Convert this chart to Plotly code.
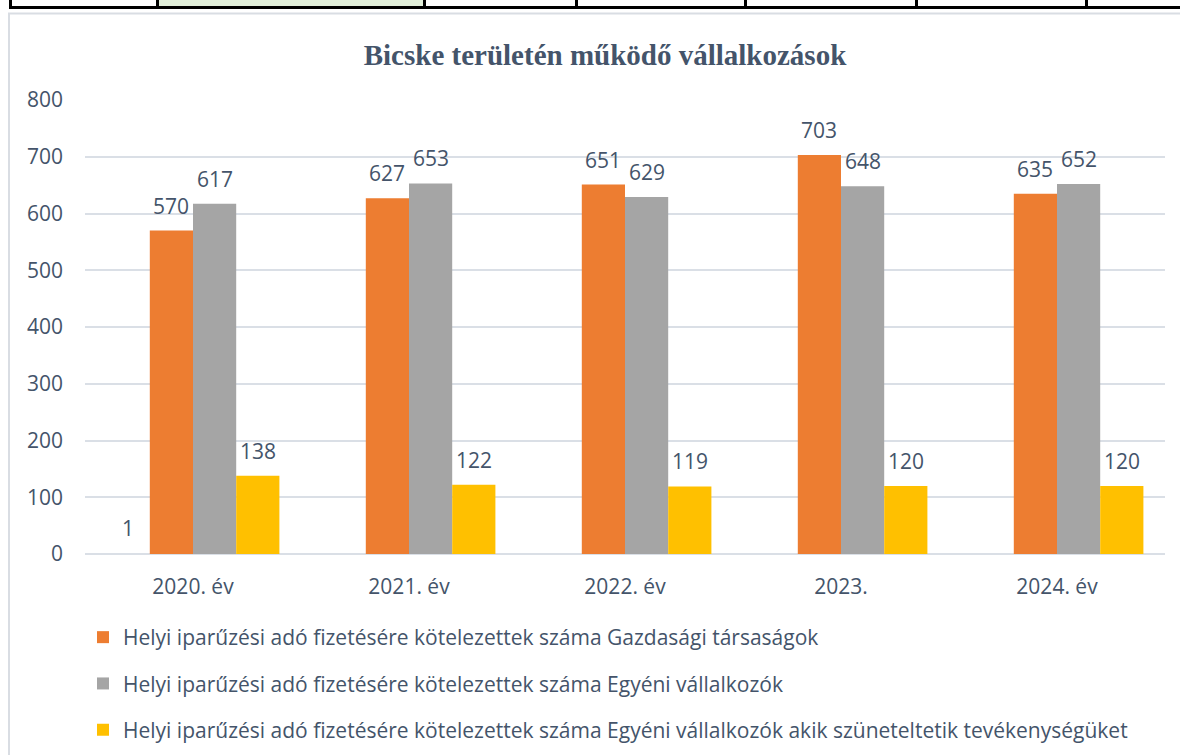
import plotly.graph_objects as go

categories = ["2020. év", "2021. év", "2022. év", "2023.", "2024. év"]
hidden_series = [1, None, None, None, None]
gazdasagi = [570, 627, 651, 703, 635]
egyeni = [617, 653, 629, 648, 652]
szunetelteti = [138, 122, 119, 120, 120]
y_ticks = [0, 100, 200, 300, 400, 500, 600, 700, 800]

names = [
    "Helyi iparűzési adó fizetésére kötelezettek száma Gazdasági társaságok",
    "Helyi iparűzési adó fizetésére kötelezettek száma Egyéni vállalkozók",
    "Helyi iparűzési adó fizetésére kötelezettek száma Egyéni vállalkozók akik szüneteltetik tevékenységüket",
]

TXT = "#44546a"
FONT = "Open Sans"
FS = 21

W, H = 1180, 755
ML, MR, MT, MB = 85, 15, 100, 201
PW = W - ML - MR
PH = H - MT - MB
BARGAP = 0.2
N_SERIES = 4
BAR_W = PW / len(categories) * (1 - BARGAP) / N_SERIES


def px(x):
    return (x - ML) / PW


def py(y):
    return (H - MB - y) / PH


fig = go.Figure()

all_series = [hidden_series, gazdasagi, egyeni, szunetelteti]
colors = ["#dadfe6", "#ed7d31", "#a5a5a5", "#ffc000"]
legend_names = [None] + names

for i, (vals, col, nm) in enumerate(zip(all_series, colors, legend_names)):
    fig.add_trace(go.Bar(
        x=categories, y=vals, name=nm if nm else "hidden",
        showlegend=nm is not None, legendgroup=f"g{i}",
        marker=dict(color=col, line=dict(width=0)),
    ))

annotations = []
for i, vals in enumerate(all_series):
    for j, v in enumerate(vals):
        if v is None:
            continue
        annotations.append(dict(
            x=j, y=v, xref="x", yref="y", text=str(v), showarrow=False,
            xshift=(i - (N_SERIES - 1) / 2) * BAR_W, yanchor="bottom", yshift=9,
            font=dict(size=FS, color=TXT, family=FONT),
        ))

shapes = []
# chart border
shapes.append(dict(type="rect", xref="paper", yref="paper",
                   x0=px(9), x1=px(1220), y0=py(800), y1=py(13.5),
                   line=dict(color="#d9dde3", width=2), fillcolor="rgba(0,0,0,0)", layer="below"))
# table remnant at top
shapes.append(dict(type="rect", xref="paper", yref="paper",
                   x0=px(159), x1=px(423), y0=py(6), y1=py(-2),
                   line=dict(width=0), fillcolor="#e2efda"))
shapes.append(dict(type="rect", xref="paper", yref="paper",
                   x0=px(9), x1=px(1200), y0=py(9), y1=py(6),
                   line=dict(width=0), fillcolor="#000000"))
for vx in [10.5, 157.5, 424.5, 576.5, 745.5, 916.5, 1086.5]:
    shapes.append(dict(type="rect", xref="paper", yref="paper",
                       x0=px(vx - 1.5), x1=px(vx + 1.5), y0=py(9), y1=py(-2),
                       line=dict(width=0), fillcolor="#000000"))

fig.update_layout(
    width=W, height=H,
    margin=dict(l=ML, r=MR, t=MT, b=MB, autoexpand=False),
    paper_bgcolor="white", plot_bgcolor="white",
    barmode="group", bargap=BARGAP, bargroupgap=0,
    font=dict(family=FONT, color=TXT, size=FS),
    title=dict(text="<b>Bicske területén működő vállalkozások</b>",
               x=605 / W, xanchor="center", y=1 - 55 / H, yanchor="middle",
               font=dict(family="Liberation Serif", size=29, color=TXT)),
    xaxis=dict(type="category", categoryorder="array", categoryarray=categories,
               range=[-0.5, len(categories) - 0.5],
               showgrid=False, showline=False, ticks="",
               tickfont=dict(size=FS, color=TXT, family=FONT), ticklabelstandoff=18),
    yaxis=dict(range=[0, 800], tickvals=y_ticks, showgrid=True, gridcolor="#dadfe6",
               gridwidth=1.5, zeroline=True, zerolinecolor="#dadfe6", zerolinewidth=1.5,
               showline=False, ticks="", ticklabelstandoff=21,
               tickfont=dict(size=FS, color=TXT, family=FONT)),
    legend=dict(orientation="v", x=px(83), xanchor="left", y=py(617), yanchor="top",
                font=dict(size=FS, color=TXT, family=FONT), tracegroupgap=16,
                bgcolor="rgba(0,0,0,0)", itemclick=False),
    annotations=annotations,
    shapes=shapes,
)

fig.write_html("out.html", config={"displayModeBar": False},
               post_script="document.body.style.margin='0';")
